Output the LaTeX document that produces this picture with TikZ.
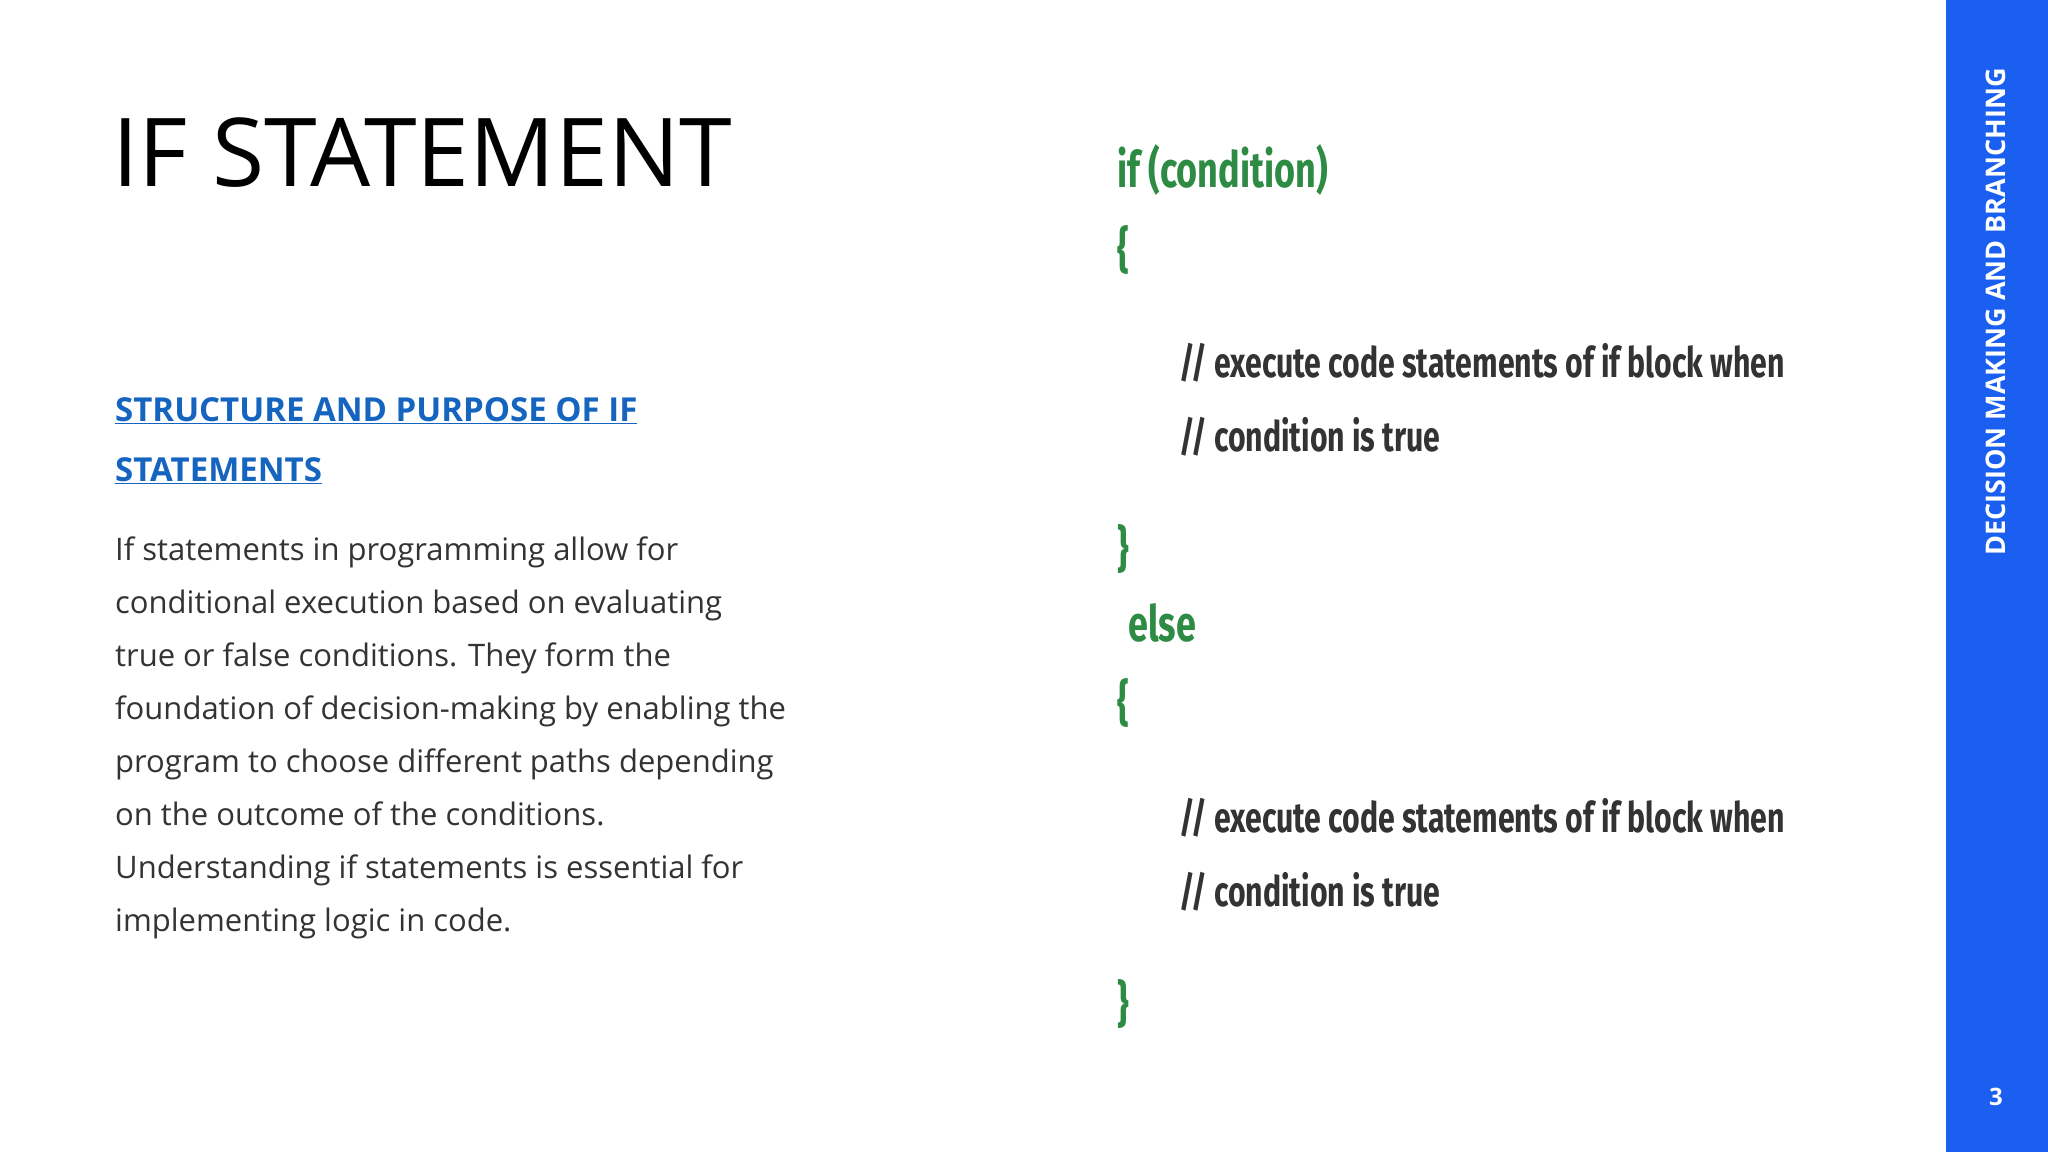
\documentclass[tikz,border=0pt]{standalone}
\usepackage{fontspec}
\setmainfont{Open Sans}
\newfontfamily\codefont{Fira Sans}
\definecolor{barblue}{HTML}{1A5FF0}
\definecolor{headblue}{HTML}{1565C0}
\definecolor{bodygray}{HTML}{333333}
\definecolor{codegreen}{HTML}{2E8B44}
\definecolor{codegray}{HTML}{333333}
\tikzset{
 codeg/.style={anchor=west,inner sep=0pt,text=codegreen,font=\codefont\bfseries\fontsize{50}{50}\selectfont},
 codec/.style={anchor=west,inner sep=0pt,text=codegray,font=\codefont\bfseries\fontsize{42}{42}\selectfont},
}
\newcommand{\nar}[1]{\scalebox{0.72}[1]{#1}}
\begin{document}
\begin{tikzpicture}[x=1pt,y=-1pt]
\useasboundingbox (0,0) rectangle (2048,1152);
\fill[white] (0,0) rectangle (2048,1152);
\fill[barblue] (1946,0) rectangle (2048,1152);
\node[rotate=90,text=white,font=\bfseries\fontsize{27}{27}\selectfont,inner sep=0pt] (side) at (1996,312) {DECISION MAKING AND BRANCHING};
\node[text=white,font=\bfseries\fontsize{24}{24}\selectfont,inner sep=0pt] (pg) at (1996,1097) {3};
\node[anchor=west,inner sep=0pt,font=\fontsize{95}{95}\selectfont] (title) at (112,153) {IF STATEMENT};
\node[anchor=north west,inner sep=0pt,align=left,text=headblue,font=\bfseries\fontsize{33}{60}\selectfont] (head) at (115,397) {\underline{STRUCTURE AND PURPOSE OF IF}\\\underline{STATEMENTS}};
\node[anchor=north west,inner sep=0pt,align=left,text=bodygray,font=\fontsize{31}{53}\selectfont] (body) at (115,537) {If statements in programming allow for\\conditional execution based on evaluating\\true or false conditions. They form the\\foundation of decision-making by enabling the\\program to choose different paths depending\\on the outcome of the conditions.\\Understanding if statements is essential for\\implementing logic in code.};
\node[codeg] (c1) at (1117,170) {\nar{if (condition)}};
\node[codeg] (c2) at (1117,250) {\nar{\{}};
\node[codec] (c3) at (1179,363) {\nar{// execute code statements of if block when}};
\node[codec] (c4) at (1179,437) {\nar{// condition is true}};
\node[codeg] (c5) at (1117,549) {\nar{\}}};
\node[codeg] (c6) at (1128,623) {\nar{else}};
\node[codeg] (c7) at (1117,703) {\nar{\{}};
\node[codec] (c8) at (1179,818) {\nar{// execute code statements of if block when}};
\node[codec] (c9) at (1179,892) {\nar{// condition is true}};
\node[codeg] (c10) at (1117,1004) {\nar{\}}};
\end{tikzpicture}
\end{document}
